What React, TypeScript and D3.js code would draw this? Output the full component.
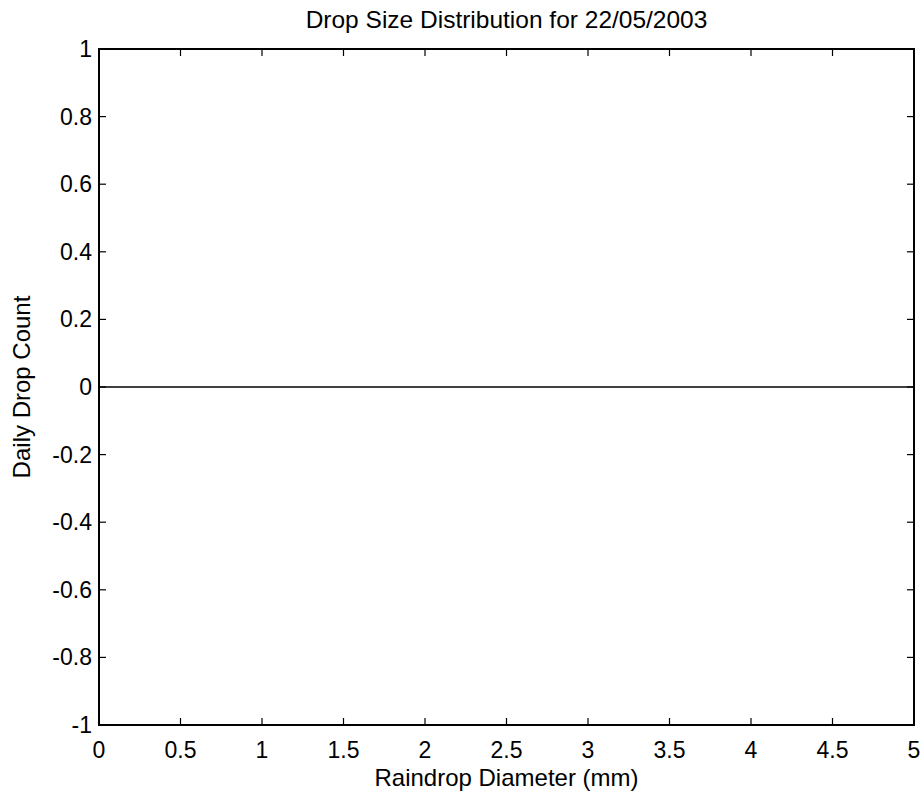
import React, { useEffect, useRef } from 'react';
import * as d3 from 'd3';

// --- Chart data ---
const chartTitle = 'Drop Size Distribution for 22/05/2003';
const xLabel = 'Raindrop Diameter (mm)';
const yLabel = 'Daily Drop Count';

const xTicks = [0, 0.5, 1, 1.5, 2, 2.5, 3, 3.5, 4, 4.5, 5];
const xTickLabels = ['0', '0.5', '1', '1.5', '2', '2.5', '3', '3.5', '4', '4.5', '5'];
const yTicks = [-1, -0.8, -0.6, -0.4, -0.2, 0, 0.2, 0.4, 0.6, 0.8, 1];
const yTickLabels = ['-1', '-0.8', '-0.6', '-0.4', '-0.2', '0', '0.2', '0.4', '0.6', '0.8', '1'];

// bin centres (mm) that show up as bar outlines on the zero line
const diameters = [
    0.3, 0.35, 0.4, 0.45,
    0.6, 0.65, 0.7, 0.75, 0.8, 0.85,
    0.95, 1.0, 1.05, 1.1,
    1.2, 1.25, 1.3, 1.35, 1.4, 1.45, 1.5, 1.55, 1.6, 1.65, 1.7,
    1.75, 1.8, 1.85, 1.9,
    2.2, 2.25, 2.35, 2.4, 2.45, 2.5, 2.55, 2.6, 2.65,
    2.85, 3.33, 3.58, 3.62, 3.92, 3.96,
    4.3, 4.35, 4.4, 4.45, 4.9, 4.95,
];
const dropCounts = [
    0, 0, 0, 0,
    0, 0, 0, 0, 0, 0,
    0, 0, 0, 0,
    0, 0, 0, 0, 0, 0, 0, 0, 0, 0, 0,
    0, 0, 0, 0,
    0, 0, 0, 0, 0, 0, 0, 0, 0,
    0, 0, 0, 0, 0, 0,
    0, 0, 0, 0, 0, 0,
];
const binWidth = 0.045;

const W = 924;
const H = 796;
const margin = { top: 49, right: 10, bottom: 71, left: 99 };
const FONT = '"Liberation Sans", Arial, Helvetica, sans-serif';
const TICK = 7;

const DropChart = () => {
    const svgRef = useRef<SVGSVGElement>(null);

    useEffect(() => {
        const svg = d3.select(svgRef.current);
        svg.selectAll('*').remove();

        const iw = W - margin.left - margin.right;
        const ih = H - margin.top - margin.bottom;

        const x = d3.scaleLinear().domain([0, 5]).range([0, iw]);
        const y = d3.scaleLinear().domain([-1, 1]).range([ih, 0]);

        svg.append('rect').attr('width', W).attr('height', H).attr('fill', '#fff');

        const g = svg.append('g').attr('transform', `translate(${margin.left},${margin.top})`);

        // bars (all zero height -> just outlines on the baseline)
        const bars = diameters.map((d, i) => ({ d, v: dropCounts[i] }));
        g.selectAll('.bar')
            .data(bars)
            .enter().append('rect')
            .attr('class', 'bar')
            .attr('x', b => x(b.d - binWidth / 2))
            .attr('width', x(binWidth) - x(0))
            .attr('y', b => Math.min(y(b.v), y(0)) + 0.8)
            .attr('height', b => Math.abs(y(b.v) - y(0)))
            .attr('fill', '#000080')
            .attr('stroke', '#333')
            .attr('stroke-width', 1.4);

        // baseline
        g.append('line')
            .attr('x1', 0).attr('x2', iw)
            .attr('y1', y(0)).attr('y2', y(0))
            .attr('stroke', '#000')
            .attr('stroke-width', 1.6);

        // ticks on all four sides, pointing inward
        const tickG = g.append('g').attr('stroke', '#000').attr('stroke-width', 1.2);
        xTicks.forEach(t => {
            tickG.append('line').attr('x1', x(t)).attr('x2', x(t)).attr('y1', ih).attr('y2', ih - TICK);
            tickG.append('line').attr('x1', x(t)).attr('x2', x(t)).attr('y1', 0).attr('y2', TICK);
        });
        yTicks.forEach(t => {
            tickG.append('line').attr('x1', 0).attr('x2', TICK).attr('y1', y(t)).attr('y2', y(t));
            tickG.append('line').attr('x1', iw).attr('x2', iw - TICK).attr('y1', y(t)).attr('y2', y(t));
        });

        // box
        g.append('rect')
            .attr('width', iw).attr('height', ih)
            .attr('fill', 'none')
            .attr('stroke', '#000')
            .attr('stroke-width', 2);

        // tick labels
        g.selectAll('.xt')
            .data(xTicks)
            .enter().append('text')
            .attr('class', 'tl')
            .attr('x', d => x(d))
            .attr('y', ih + 33)
            .attr('text-anchor', 'middle')
            .text((d, i) => xTickLabels[i]);

        g.selectAll('.yt')
            .data(yTicks)
            .enter().append('text')
            .attr('class', 'tl')
            .attr('x', -7)
            .attr('y', d => y(d))
            .attr('dy', '0.35em')
            .attr('text-anchor', 'end')
            .text((d, i) => yTickLabels[i]);

        // labels
        svg.append('text')
            .attr('class', 'title')
            .attr('x', margin.left + iw / 2)
            .attr('y', 28)
            .attr('text-anchor', 'middle')
            .text(chartTitle);

        svg.append('text')
            .attr('class', 'axl')
            .attr('x', margin.left + iw / 2)
            .attr('y', H - 10)
            .attr('text-anchor', 'middle')
            .text(xLabel);

        svg.append('text')
            .attr('class', 'axl')
            .attr('transform', `translate(30,${margin.top + y(0)}) rotate(-90)`)
            .attr('text-anchor', 'middle')
            .text(yLabel);

        svg.selectAll('text')
            .attr('font-family', FONT)
            .attr('fill', '#000');
        svg.selectAll('.tl').attr('font-size', 23);
        svg.selectAll('.axl').attr('font-size', 24);
        svg.selectAll('.title').attr('font-size', 24.5);
    }, []);

    return <svg ref={svgRef} width={W} height={H} style={{ position: 'absolute', left: 0, top: 0, display: 'block' }} />;
};

export default function App() {
    return <DropChart />;
}
